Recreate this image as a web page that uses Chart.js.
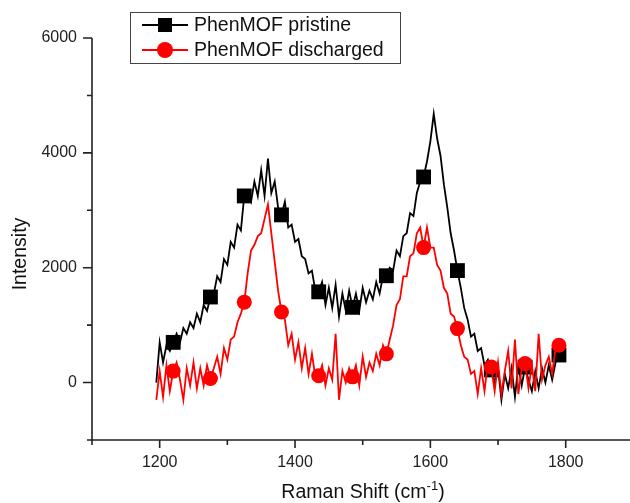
<!DOCTYPE html>
<html><head><meta charset="utf-8">
<script src="https://cdn.jsdelivr.net/npm/chart.js@4.4.1/dist/chart.umd.min.js"></script>
<style>html,body{margin:0;padding:0;background:#fff;}canvas{display:block;}</style>
</head><body>
<canvas id="c" width="630" height="503"></canvas>
<script>
const ramanShift = [
 1195,1200,1205,1210,1215,1220,1225,1230,1235,1240,
 1245,1250,1255,1260,1265,1270,1275,1280,1285,1290,
 1295,1300,1305,1310,1315,1320,1325,1330,1335,1340,
 1345,1350,1355,1360,1365,1370,1375,1380,1385,1390,
 1395,1400,1405,1410,1415,1420,1425,1430,1435,1440,
 1445,1450,1455,1460,1465,1470,1475,1480,1485,1490,
 1495,1500,1505,1510,1515,1520,1525,1530,1535,1540,
 1545,1550,1555,1560,1565,1570,1575,1580,1585,1590,
 1595,1600,1605,1610,1615,1620,1625,1630,1635,1640,
 1645,1650,1655,1660,1665,1670,1675,1680,1685,1690,
 1695,1700,1705,1710,1715,1720,1725,1730,1735,1740,
 1745,1750,1755,1760,1765,1770,1775,1780,1785,1790
];
const pristine = [
 0,700,350,650,550,700,850,700,950,850,
 1050,950,1200,1050,1350,1250,1490,1550,1850,1750,
 2150,2050,2450,2350,2750,2650,3250,3300,3150,3500,
 3250,3700,3250,3900,3300,3500,3050,2920,3150,2700,
 2750,2450,2500,2200,2150,1900,1950,1600,1580,1750,
 1350,1650,1300,1700,1150,1550,1250,1600,1310,1550,
 1250,1650,1400,1600,1450,1750,1550,1850,1860,2000,
 1950,2300,2200,2550,2600,2950,2900,3300,3500,3580,
 3850,4200,4680,4250,3950,3450,3050,2600,2300,1950,
 1650,1300,1100,800,850,550,600,300,400,220,
 0,250,-300,150,-100,250,-250,300,-50,270,
 50,-150,200,-100,250,0,300,50,350,480
];
const discharged = [
 -300,200,-250,300,-150,200,350,50,-300,250,
 -50,350,-100,250,-50,300,70,250,450,150,
 600,400,750,800,1050,1200,1400,1900,2300,2400,
 2550,2600,2850,3100,2600,2100,1600,1230,1100,650,
 850,400,700,250,600,150,500,100,120,300,
 -50,250,50,850,-300,200,0,250,100,300,
 -50,450,100,350,200,500,300,650,500,750,
 1000,1350,1450,1850,1850,2200,2250,2600,2700,2350,
 2700,2350,2350,2050,1950,1650,1550,1200,1150,940,
 650,450,400,150,200,-200,250,-150,350,270,
 -150,350,-200,200,550,-100,750,-200,250,330,
 -100,300,-150,850,50,300,450,150,600,650
];
const markerShifts = [1220,1275,1325,1380,1435,1485,1535,1590,1640,1690,1740,1790];
const xMajorTicks = [1200,1400,1600,1800];
const xMinorTicks = [1100,1300,1500,1700];
const yMajorTicks = [0,2000,4000,6000];
const yMinorTicks = [-1000,1000,3000,5000];
const seriesNames = ['PhenMOF pristine','PhenMOF discharged'];
const seriesColors = ['#000000','#ff0000'];

const FONT = '"Liberation Sans", Arial, sans-serif';
const isMarker = (ctx) => markerShifts.includes(ramanShift[ctx.dataIndex]);

const framePlugin = {
  id: 'frame',
  afterDraw(chart) {
    const ctx = chart.ctx;
    const xs = chart.scales.x, ys = chart.scales.y;
    const a = chart.chartArea;
    ctx.save();
    ctx.strokeStyle = '#222';
    ctx.lineWidth = 1.6;
    ctx.beginPath();
    ctx.moveTo(a.left, a.top);
    ctx.lineTo(a.left, a.bottom);
    ctx.lineTo(chart.width, a.bottom);
    ctx.stroke();
    ctx.beginPath();
    xMajorTicks.forEach(v => { const p = xs.getPixelForValue(v); ctx.moveTo(p, a.bottom); ctx.lineTo(p, a.bottom + 8); });
    xMinorTicks.forEach(v => { const p = xs.getPixelForValue(v); ctx.moveTo(p, a.bottom); ctx.lineTo(p, a.bottom + 5); });
    yMajorTicks.forEach(v => { const p = ys.getPixelForValue(v); ctx.moveTo(a.left, p); ctx.lineTo(a.left - 9, p); });
    yMinorTicks.forEach(v => { const p = ys.getPixelForValue(v); ctx.moveTo(a.left, p); ctx.lineTo(a.left - 5, p); });
    ctx.stroke();

    // axis titles
    ctx.fillStyle = '#111';
    ctx.font = '19.5px ' + FONT;
    ctx.textBaseline = 'middle';
    ctx.textAlign = 'center';
    ctx.save();
    ctx.translate(21, 254);
    ctx.rotate(-Math.PI / 2);
    ctx.fillText('Intensity', 0, 0);
    ctx.restore();

    const main = 'Raman Shift (cm', sup = '-1', close = ')';
    ctx.font = '19.5px ' + FONT;
    const w1 = ctx.measureText(main).width, w3 = ctx.measureText(close).width;
    ctx.font = '13px ' + FONT;
    const w2 = ctx.measureText(sup).width;
    let x0 = 363 - (w1 + w2 + w3) / 2;
    const yT = 493;
    ctx.textAlign = 'left';
    ctx.font = '19.5px ' + FONT;
    ctx.fillText(main, x0, yT);
    ctx.font = '13px ' + FONT;
    ctx.fillText(sup, x0 + w1, yT - 7);
    ctx.font = '19.5px ' + FONT;
    ctx.fillText(close, x0 + w1 + w2, yT);

    // legend
    ctx.lineWidth = 1;
    ctx.strokeStyle = '#444';
    ctx.strokeRect(130.5, 12.5, 270, 51);
    const rows = [25, 50];
    rows.forEach((ry, i) => {
      ctx.strokeStyle = seriesColors[i];
      ctx.fillStyle = seriesColors[i];
      ctx.lineWidth = 2;
      ctx.beginPath(); ctx.moveTo(142, ry); ctx.lineTo(188, ry); ctx.stroke();
      if (i === 0) { ctx.fillRect(158, ry - 7, 14, 14); }
      else { ctx.beginPath(); ctx.arc(165, ry, 8, 0, Math.PI * 2); ctx.fill(); }
      ctx.fillStyle = '#111';
      ctx.font = '19.5px ' + FONT;
      ctx.textAlign = 'left';
      ctx.fillText(seriesNames[i], 194, ry + 1);
    });
    ctx.restore();
  }
};

new Chart(document.getElementById('c'), {
  type: 'line',
  data: {
    datasets: [
      {
        label: seriesNames[0],
        data: ramanShift.map((x, i) => ({ x: x, y: pristine[i] })),
        borderColor: seriesColors[0], backgroundColor: seriesColors[0],
        borderWidth: 1.8, pointStyle: 'rect',
        pointRadius: (ctx) => isMarker(ctx) ? 10.5 : 0,
        pointBorderWidth: 0, pointBackgroundColor: seriesColors[0],
        tension: 0, order: 2
      },
      {
        label: seriesNames[1],
        data: ramanShift.map((x, i) => ({ x: x, y: discharged[i] })),
        borderColor: seriesColors[1], backgroundColor: seriesColors[1],
        borderWidth: 1.8, pointStyle: 'circle',
        pointRadius: (ctx) => isMarker(ctx) ? 7.5 : 0,
        pointBorderWidth: 0, pointBackgroundColor: seriesColors[1],
        tension: 0, order: 1
      }
    ]
  },
  options: {
    responsive: false, animation: false, devicePixelRatio: 1,
    layout: { autoPadding: false, padding: { top: 38, right: 0, left: 0, bottom: 0 } },
    plugins: { legend: { display: false }, tooltip: { enabled: false } },
    scales: {
      x: {
        type: 'linear', min: 1100, max: 1895,
        afterBuildTicks: s => { s.ticks = xMajorTicks.map(v => ({ value: v })); },
        afterFit: s => { s.height = 63; },
        grid: { display: false, drawTicks: false },
        border: { display: false },
        ticks: { padding: 13, maxRotation: 0, autoSkip: false, color: '#222', font: { family: FONT, size: 16 }, callback: v => String(v) }
      },
      y: {
        min: -1000, max: 6000,
        afterBuildTicks: s => { s.ticks = yMajorTicks.map(v => ({ value: v })); },
        afterFit: s => { s.width = 92; },
        grid: { display: false, drawTicks: false },
        border: { display: false },
        ticks: { padding: 15, color: '#222', font: { family: FONT, size: 16 }, callback: v => String(v) }
      }
    }
  },
  plugins: [framePlugin]
});
</script>
</body></html>
